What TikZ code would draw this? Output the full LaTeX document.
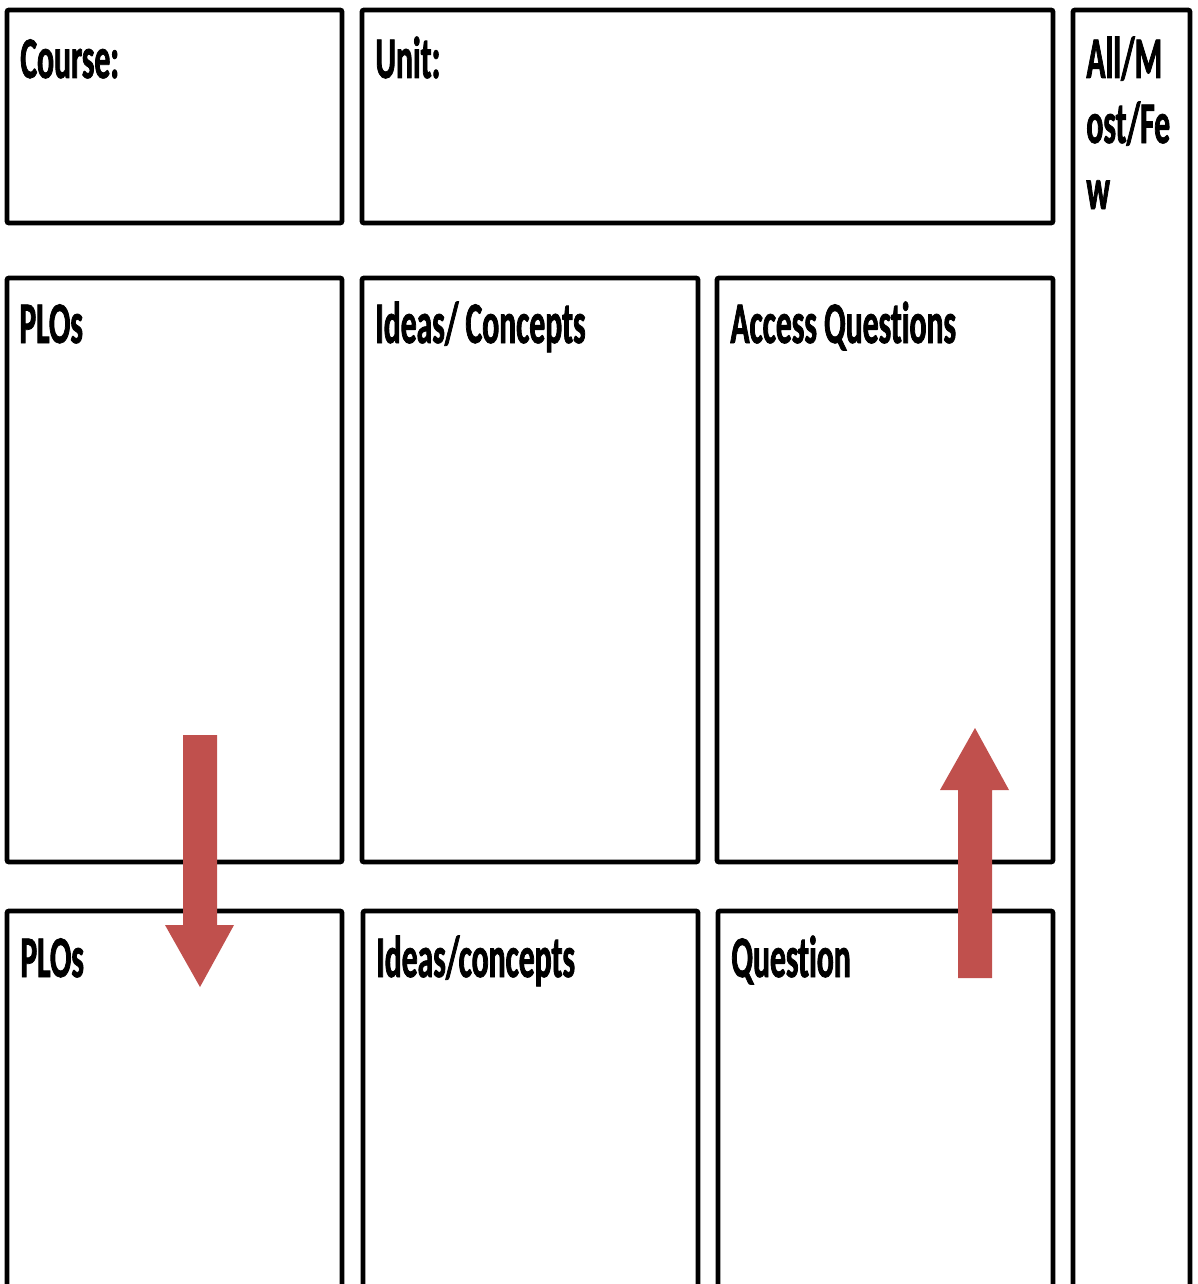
\documentclass[tikz,border=0pt]{standalone}
\usepackage{fontspec}
\newfontfamily\lab[FakeStretch=0.535,Ligatures=NoCommon,BoldFont={Carlito Bold},BoldFeatures={FakeBold=1.3}]{Carlito}
\definecolor{arrred}{HTML}{C0504D}
\begin{document}
\begin{tikzpicture}[x=0.5pt,y=-0.5pt,
  box/.style={draw=black,line width=2.4pt,rounded corners=1pt},
  lbl/.style={anchor=base west,inner sep=0pt,font=\lab\bfseries\fontsize{29.5pt}{33pt}\selectfont},
  blockarrow/.style={fill=arrred,draw=none}]
\useasboundingbox (0,0) rectangle (1198,1284);
\begin{scope}
\clip (0,0) rectangle (1198,1284);
\draw[box] (7,10) rectangle (342,223);
\draw[box] (362,10) rectangle (1053,223);
\draw[box] (1073,10) rectangle (1190,1300);
\draw[box] (7,278) rectangle (342,862);
\draw[box] (362,278) rectangle (698,862);
\draw[box] (717,278) rectangle (1053,862);
\draw[box] (7,911) rectangle (342,1300);
\draw[box] (363,911) rectangle (698,1300);
\draw[box] (718,911) rectangle (1053,1300);
\end{scope}
\node[lbl] (course) at (20,78) {Course:};
\node[lbl] (unit) at (375,78) {Unit:};
\node[lbl] (amf1) at (1086,78) {All/M};
\node[lbl] (amf2) at (1086,143) {ost/Fe};
\node[lbl] (amf3) at (1086,209) {w};
\node[lbl] (plos1) at (19,343) {PLOs};
\node[lbl] (ideas1) at (375,343) {Ideas/ Concepts};
\node[lbl] (access) at (730,343) {Access Questions};
\node[lbl] (plos2) at (20,977) {PLOs};
\node[lbl] (ideas2) at (376,977) {Ideas/concepts};
\node[lbl] (quest) at (731,977) {Question};
\fill[blockarrow] (183,735) -- (217,735) -- (217,925) -- (234,925) -- (200,987) -- (165,925) -- (183,925) -- cycle;
\fill[blockarrow] (958,978) -- (992,978) -- (992,790) -- (1009,790) -- (975,728) -- (940,790) -- (958,790) -- cycle;
\end{tikzpicture}
\end{document}
